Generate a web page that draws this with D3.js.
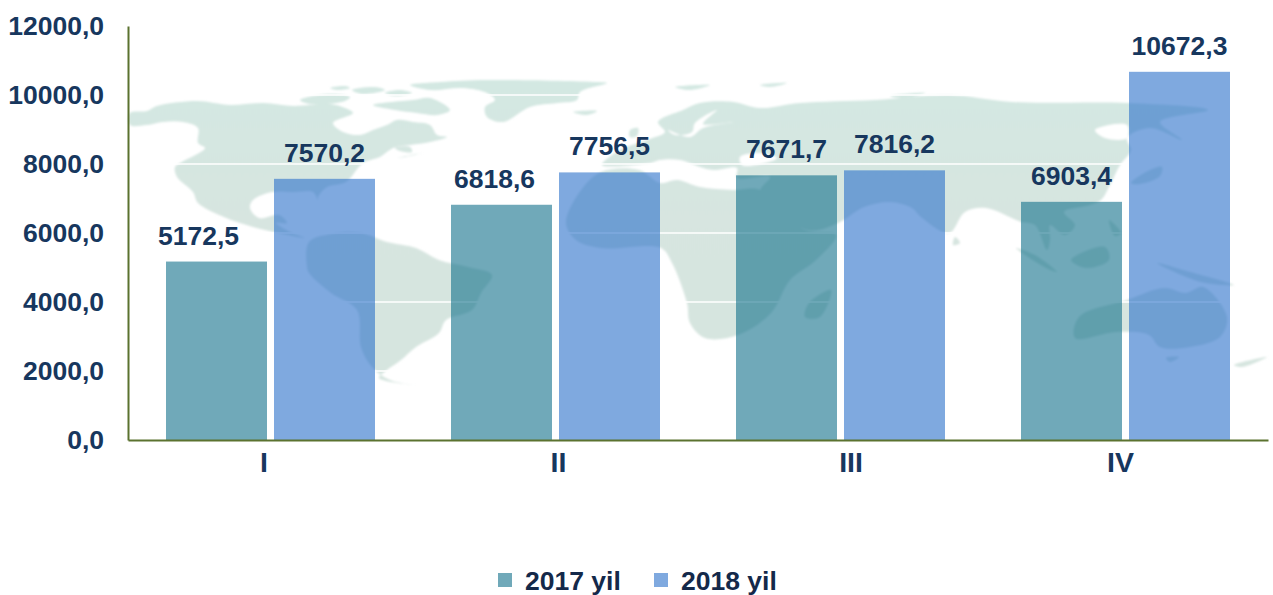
<!DOCTYPE html>
<meta charset="utf-8">
<style>

body {
  margin: 0;
  background: #fff;
}

svg {
  display: block;
}

text {
  font-family: "Liberation Sans", Arial, sans-serif;
  font-weight: bold;
  fill: #17375e;
}

</style>
<svg></svg>
<script src="https://d3js.org/d3.v7.min.js"></script>
<script>

var quarters = ["I", "II", "III", "IV"];
var seriesNames = ["2017 yil", "2018 yil"];
var values2017 = [5172.5, 6818.6, 7671.7, 6903.4];
var values2018 = [7570.2, 7756.5, 7816.2, 10672.3];
var yTicks = [0, 2000, 4000, 6000, 8000, 10000, 12000];

// background map in page pixels
var land = [
  // north america
  [[130,113],[147,111],[157,106],[197,101],[230,105],[263,103],[294,106],[330,104],[345,108],[353,113],[333,123],[343,132],[360,135],[373,130],[387,125],[397,120],[413,122],[430,125],[437,135],[447,137],[430,142],[410,145],[393,148],[380,157],[363,163],[346,182],[327,187],[318,197],[318,200],[313,192],[294,192],[272,192],[253,200],[250,208],[259,218],[279,215],[287,223],[276,223],[290,232],[305,238],[279,233],[253,227],[224,217],[198,203],[193,192],[177,177],[175,167],[182,162],[205,148],[198,143],[198,128],[183,122],[163,122],[147,125],[130,125]],
  // greenland and arctic islands
  [[410,85],[440,82],[487,80],[597,82],[607,83],[580,92],[577,100],[557,103],[530,107],[503,122],[487,117],[485,107],[495,100],[487,93],[463,88],[430,90]],
  [[373,105],[413,100],[430,98],[450,110],[437,115],[417,113],[395,110]],
  [[300,100],[330,94],[350,97],[345,101],[310,104]],
  [[352,90],[375,87],[385,90],[362,94]],
  [[385,93],[400,90],[412,93],[395,96]],
  [[330,88],[345,86],[350,88],[338,90]],
  [[573,112],[597,111],[587,115]],
  [[395,148],[410,147],[412,152],[400,151]],
  [[397,158],[422,153],[405,157]],
  [[630,130],[638,128],[637,136],[630,137]],
  // south america
  [[307,267],[309,242],[331,234],[361,233],[387,242],[416,248],[439,260],[468,267],[492,275],[481,293],[472,310],[446,320],[439,333],[416,347],[401,360],[387,370],[379,378],[416,385],[390,380],[372,367],[361,347],[357,310],[331,293],[309,273]],
  // africa
  [[601,172],[639,170],[660,183],[677,180],[700,187],[733,190],[760,190],[805,230],[836,235],[816,260],[790,280],[771,313],[738,335],[705,338],[690,323],[687,303],[672,263],[661,248],[601,248],[576,240],[566,223],[579,193]],
  [[831,290],[820,317],[805,317],[809,303]],
  // eurasia
  [[602,165],[620,150],[650,139],[665,132],[658,122],[683,110],[700,103],[733,102],[760,108],[800,103],[875,100],[949,95],[1012,102],[1127,103],[1208,110],[1160,122],[1182,140],[1150,128],[1127,138],[1131,150],[1120,165],[1110,185],[1101,200],[1090,205],[1064,212],[1075,225],[1065,235],[1050,225],[1050,240],[1047,250],[1035,225],[1021,222],[1016,220],[986,208],[965,212],[949,233],[921,217],[912,208],[890,202],[864,207],[838,223],[808,230],[760,192],[770,177],[737,178],[737,168],[713,170],[700,167],[680,160],[660,160],[650,163]],
  // russian arctic islands
  [[675,87],[710,85],[690,90]],
  [[760,85],[787,83],[770,87]],
  [[890,96],[925,93],[905,98]],
  // japan, islands, australia
  [[1131,183],[1150,170],[1162,167],[1160,176],[1140,184]],
  [[955,237],[960,243],[953,245]],
  [[1016,248],[1035,255],[1057,272],[1046,268]],
  [[1071,260],[1105,247],[1109,260],[1086,268]],
  [[1109,220],[1121,233],[1115,236]],
  [[1157,263],[1201,275],[1234,285],[1201,282]],
  [[1075,338],[1079,317],[1127,300],[1164,288],[1186,293],[1203,287],[1227,317],[1220,337],[1190,347],[1160,347],[1149,335],[1116,332]],
  [[1166,358],[1179,357],[1170,362]],
  [[1234,365],[1267,357],[1242,367]]
];

// inland seas, painted over the land
var seas = [
  [[740,157],[760,153],[777,158],[765,163],[742,165]],
  [[717,110],[695,123],[692,132],[675,135],[668,130],[690,137],[703,128],[733,122],[703,124]],
  [[1095,130],[1127,125],[1127,138],[1105,138]]
];

var width = 1273,
    height = 595;

var margin = {left: 128, right: 1268, top: 26, bottom: 440};

var svg = d3.select("svg")
    .attr("width", width)
    .attr("height", height);

var x0 = d3.scaleBand()
    .domain(quarters)
    .range([margin.left, margin.right])
    .paddingInner(76 / 285)
    .paddingOuter(38 / 285);

var x1 = d3.scaleBand()
    .domain(seriesNames)
    .range([0, x0.bandwidth()])
    .paddingInner(7 / 108);

var y = d3.scaleLinear()
    .domain([0, 12000])
    .range([margin.bottom, margin.top]);

var color = d3.scaleOrdinal()
    .domain(seriesNames)
    .range(["#70a9b9", "#7fa9df"]);

// the bars are see-through in the original, the map shows under them
var barFill = d3.scaleOrdinal()
    .domain(seriesNames)
    .range(["rgb(17,112,138)", "rgb(42,112,202)"]);

var defs = svg.append("defs");

defs.append("filter")
    .attr("id", "soft")
  .append("feGaussianBlur")
    .attr("stdDeviation", 0.8);

var landGradient = defs.append("linearGradient")
    .attr("id", "landFill")
    .attr("gradientUnits", "userSpaceOnUse")
    .attr("x1", 0).attr("y1", 80)
    .attr("x2", 0).attr("y2", 385);

landGradient.append("stop").attr("offset", "0").attr("stop-color", "#d3e8e2");
landGradient.append("stop").attr("offset", "0.45").attr("stop-color", "#d7e5e0");
landGradient.append("stop").attr("offset", "1").attr("stop-color", "#d6e5df");

var outline = d3.line().curve(d3.curveCatmullRomClosed.alpha(0.5));

var map = svg.append("g").attr("filter", "url(#soft)");

map.selectAll("path.land")
    .data(land)
  .enter().append("path")
    .attr("class", "land")
    .attr("d", outline)
    .attr("fill", "url(#landFill)");

map.selectAll("path.sea")
    .data(seas)
  .enter().append("path")
    .attr("class", "sea")
    .attr("d", outline)
    .attr("fill", "#fff");

// gridlines
svg.append("g")
    .selectAll("line")
    .data(yTicks.slice(1))
  .enter().append("line")
    .attr("x1", margin.left)
    .attr("x2", margin.right)
    .attr("y1", function(d) { return y(d); })
    .attr("y2", function(d) { return y(d); })
    .attr("stroke", "#fff")
    .attr("stroke-width", 1.5);

// bars
var series = [values2017, values2018];

var groups = svg.append("g")
    .selectAll("g")
    .data(seriesNames)
  .enter().append("g")
    .attr("fill", function(d) { return barFill(d); })
    .attr("fill-opacity", 0.6);

groups.selectAll("rect")
    .data(function(d, i) {
      return series[i].map(function(v, j) {
        return {name: d, quarter: quarters[j], value: v};
      });
    })
  .enter().append("rect")
    .attr("x", function(d) { return x0(d.quarter) + x1(d.name); })
    .attr("y", function(d) { return y(d.value); })
    .attr("width", x1.bandwidth())
    .attr("height", function(d) { return y(0) - y(d.value); });

// value labels, two of them sit left of their bar in the original
var labelShift = {"5172.5": -18, "6818.6": -7};

var labels = svg.append("g")
    .attr("font-size", 26.5)
    .attr("text-anchor", "middle");

series.forEach(function(values, i) {
  values.forEach(function(v, j) {
    labels.append("text")
      .attr("x", x0(quarters[j]) + x1(seriesNames[i]) + x1.bandwidth() / 2 + (labelShift[v] || 0))
      .attr("y", y(v) - 17)
      .text(String(v).replace(".", ","));
  });
});

// axes
var yAxis = d3.axisLeft(y)
    .tickValues(yTicks)
    .tickSize(0)
    .tickPadding(24)
    .tickFormat(function(d) { return d3.format(".1f")(d).replace(".", ","); });

var yAxisG = svg.append("g")
    .attr("transform", "translate(" + margin.left + ",0)")
    .call(yAxis);

yAxisG.selectAll("text")
    .attr("font-size", 26.5)
    .attr("font-family", null);

yAxisG.select(".domain")
    .attr("stroke", "#5b722f")
    .attr("stroke-width", 2);

var xAxis = d3.axisBottom(x0)
    .tickSize(0)
    .tickPadding(12);

var xAxisG = svg.append("g")
    .attr("transform", "translate(0," + margin.bottom + ")")
    .call(xAxis);

xAxisG.select(".domain")
    .attr("stroke", "#5b722f")
    .attr("stroke-width", 2);

// quarter labels are not centred under the groups in the original
var tickShift = [-6.5, 3, 10.5, -5];

xAxisG.selectAll("text")
    .attr("font-size", 28.5)
    .attr("font-family", null)
    .attr("dx", function(d, i) { return tickShift[i]; });

// legend
var legendX = d3.scaleOrdinal()
    .domain(seriesNames)
    .range([498, 654]);

var legend = svg.append("g")
    .selectAll("g")
    .data(seriesNames)
  .enter().append("g")
    .attr("transform", function(d) { return "translate(" + legendX(d) + ",573)"; });

legend.append("rect")
    .attr("width", 14)
    .attr("height", 14)
    .attr("fill", function(d) { return color(d); });

legend.append("text")
    .attr("x", 27)
    .attr("y", 17)
    .attr("font-size", 26.5)
    .style("fill", "#14294a")
    .text(function(d) { return d; });

</script>
